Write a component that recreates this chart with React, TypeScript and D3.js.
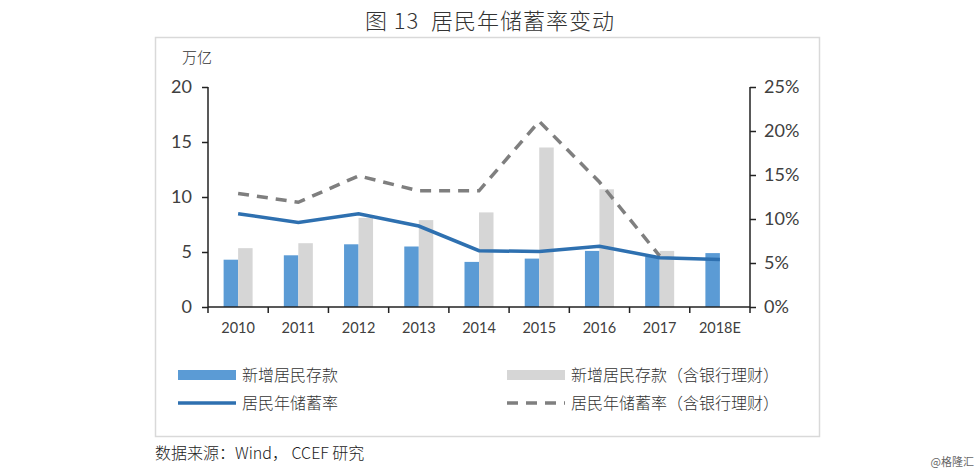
import React, { useRef, useEffect } from 'react'
import * as d3 from 'd3'

const years = ['2010', '2011', '2012', '2013', '2014', '2015', '2016', '2017', '2018E']
const deposits = [4.3, 4.7, 5.7, 5.5, 4.1, 4.4, 5.1, 4.6, 4.9]
const depositsWm = [5.35, 5.8, 8.1, 7.9, 8.6, 14.5, 10.7, 5.1, null]
const saveRate = [10.6, 9.6, 10.6, 9.2, 6.4, 6.3, 6.9, 5.6, 5.4]
const saveRateWm = [12.9, 11.9, 14.9, 13.2, 13.2, 21.1, 14.2, 5.8, null]
const leftTicks = [0, 5, 10, 15, 20]
const rightTicks = [0, 5, 10, 15, 20, 25]

const BLUE = '#5b9bd5'
const GREY = '#d6d6d6'
const LINE = '#2e70b0'
const DASH = '#7f7f7f'
const NUM_FONT = 'Lato, "Liberation Sans", sans-serif'
const CJK = '"Noto Sans CJK SC", sans-serif'

const App = () => {
  const svgRef = useRef(null)

  useEffect(() => {
    const svg = d3.select(svgRef.current)
    svg.selectAll('*').remove()

    const left = 208
    const right = 750
    const top = 87
    const bottom = 307

    // frame
    svg
      .append('rect')
      .attr('x', 155.5)
      .attr('y', 37.5)
      .attr('width', 664)
      .attr('height', 399)
      .attr('fill', 'none')
      .attr('stroke', '#d9d9d9')
      .attr('stroke-width', 1.5)

    svg
      .append('text')
      .attr('x', 490)
      .attr('y', 29)
      .attr('text-anchor', 'middle')
      .attr('font-family', CJK)
      .attr('font-size', 22)
      .attr('font-weight', 300)
      .attr('letter-spacing', 1)
      .attr('fill', '#333')
      .attr('xml:space', 'preserve')
      .text('图 13  居民年储蓄率变动')

    const x = d3.scaleBand().domain(years).range([left, right])
    const y = d3.scaleLinear().domain([0, 20]).range([bottom, top])
    const y2 = d3.scaleLinear().domain([0, 25]).range([bottom, top])
    const bw = 14.5

    const g = svg.append('g')

    g.selectAll('.b1')
      .data(deposits)
      .enter()
      .append('rect')
      .attr('x', (d, i) => x(years[i]) + x.bandwidth() / 2 - bw)
      .attr('y', (d) => y(d))
      .attr('width', bw)
      .attr('height', (d) => bottom - y(d))
      .attr('fill', BLUE)

    g.selectAll('.b2')
      .data(depositsWm)
      .enter()
      .filter((d) => d != null)
      .append('rect')
      .attr('x', (d, i) => x(years[i]) + x.bandwidth() / 2)
      .attr('y', (d) => y(d))
      .attr('width', bw)
      .attr('height', (d) => bottom - y(d))
      .attr('fill', GREY)

    const line = d3
      .line()
      .defined((d) => d[1] != null)
      .x((d) => x(years[d[0]]) + x.bandwidth() / 2)
      .y((d) => y2(d[1]))

    g.append('path')
      .attr('d', line(saveRateWm.map((v, i) => [i, v])))
      .attr('fill', 'none')
      .attr('stroke', DASH)
      .attr('stroke-width', 3.5)
      .attr('stroke-dasharray', '11 8')

    g.append('path')
      .attr('d', line(saveRate.map((v, i) => [i, v])))
      .attr('fill', 'none')
      .attr('stroke', LINE)
      .attr('stroke-width', 3.5)

    // axes
    const axL = svg
      .append('g')
      .attr('transform', `translate(${left},0)`)
      .call(d3.axisLeft(y).tickValues(leftTicks).tickSize(6).tickPadding(10))
    const axR = svg
      .append('g')
      .attr('transform', `translate(${right},0)`)
      .call(
        d3
          .axisRight(y2)
          .tickValues(rightTicks)
          .tickSize(6)
          .tickPadding(8)
          .tickFormat((d) => d + '%'),
      )
    const axB = svg
      .append('g')
      .attr('transform', `translate(0,${bottom})`)
      .call(d3.axisBottom(x).tickSize(0).tickPadding(16))

    // category boundary ticks
    svg
      .append('g')
      .selectAll('line')
      .data(years.concat(['end']))
      .enter()
      .append('line')
      .attr('x1', (d, i) => left + i * x.step())
      .attr('x2', (d, i) => left + i * x.step())
      .attr('y1', bottom)
      .attr('y2', bottom + 6)
      .attr('stroke', '#222')
      .attr('stroke-width', 1.5)

    ;[axL, axR, axB].forEach((ax) => {
      ax.select('.domain').attr('stroke', '#222').attr('stroke-width', 1.5)
      ax.selectAll('.tick line').attr('stroke', '#222').attr('stroke-width', 1.5)
    })
    axL.select('.domain').attr('d', `M0,${bottom}V${top}`)
    axR.select('.domain').attr('d', `M0,${bottom}V${top}`)
    axB.select('.domain').attr('d', `M${left},0H${right}`)
    ;[axL, axR].forEach((ax) =>
      ax
        .selectAll('.tick text')
        .attr('font-family', NUM_FONT)
        .attr('font-size', 18)
        .attr('fill', '#404040'),
    )
    axB
      .selectAll('.tick text')
      .attr('font-family', NUM_FONT)
      .attr('font-size', 14.5)
      .attr('fill', '#404040')

    svg
      .append('text')
      .attr('x', 182)
      .attr('y', 63)
      .attr('font-family', CJK)
      .attr('font-size', 15)
      .attr('font-weight', 300)
      .attr('fill', '#333')
      .text('万亿')

    // legend
    const legend = [
      { label: '新增居民存款', type: 'bar', color: BLUE, lx: 178, ly: 375 },
      { label: '新增居民存款（含银行理财）', type: 'bar', color: GREY, lx: 507, ly: 375 },
      { label: '居民年储蓄率', type: 'line', color: LINE, lx: 178, ly: 403 },
      { label: '居民年储蓄率（含银行理财）', type: 'dash', color: DASH, lx: 507, ly: 403 },
    ]
    const lg = svg.append('g').selectAll('g').data(legend).enter().append('g')
    lg.filter((d) => d.type === 'bar')
      .append('rect')
      .attr('x', (d) => d.lx)
      .attr('y', (d) => d.ly - 5)
      .attr('width', 58)
      .attr('height', 10)
      .attr('fill', (d) => d.color)
    lg.filter((d) => d.type !== 'bar')
      .append('line')
      .attr('x1', (d) => d.lx)
      .attr('x2', (d) => d.lx + 58)
      .attr('y1', (d) => d.ly)
      .attr('y2', (d) => d.ly)
      .attr('stroke', (d) => d.color)
      .attr('stroke-width', 3.5)
      .attr('stroke-dasharray', (d) => (d.type === 'dash' ? '11 8' : null))
    lg.append('text')
      .attr('x', (d) => d.lx + 64)
      .attr('y', (d) => d.ly + 6)
      .attr('font-family', CJK)
      .attr('font-size', 16)
      .attr('font-weight', 300)
      .attr('fill', '#333')
      .text((d) => d.label)

    svg
      .append('text')
      .attr('x', 155)
      .attr('y', 459)
      .attr('font-family', CJK)
      .attr('font-size', 16)
      .attr('font-weight', 300)
      .attr('fill', '#222')
      .text('数据来源：Wind， CCEF 研究')

    svg
      .append('text')
      .attr('x', 974)
      .attr('y', 466)
      .attr('text-anchor', 'end')
      .attr('font-family', CJK)
      .attr('font-size', 11)
      .attr('fill', '#666')
      .text('@格隆汇')
  }, [])

  return (
    <svg
      ref={svgRef}
      width={980}
      height={473}
      style={{ position: 'absolute', left: 0, top: 0, background: '#fff' }}
    />
  )
}

export default App
